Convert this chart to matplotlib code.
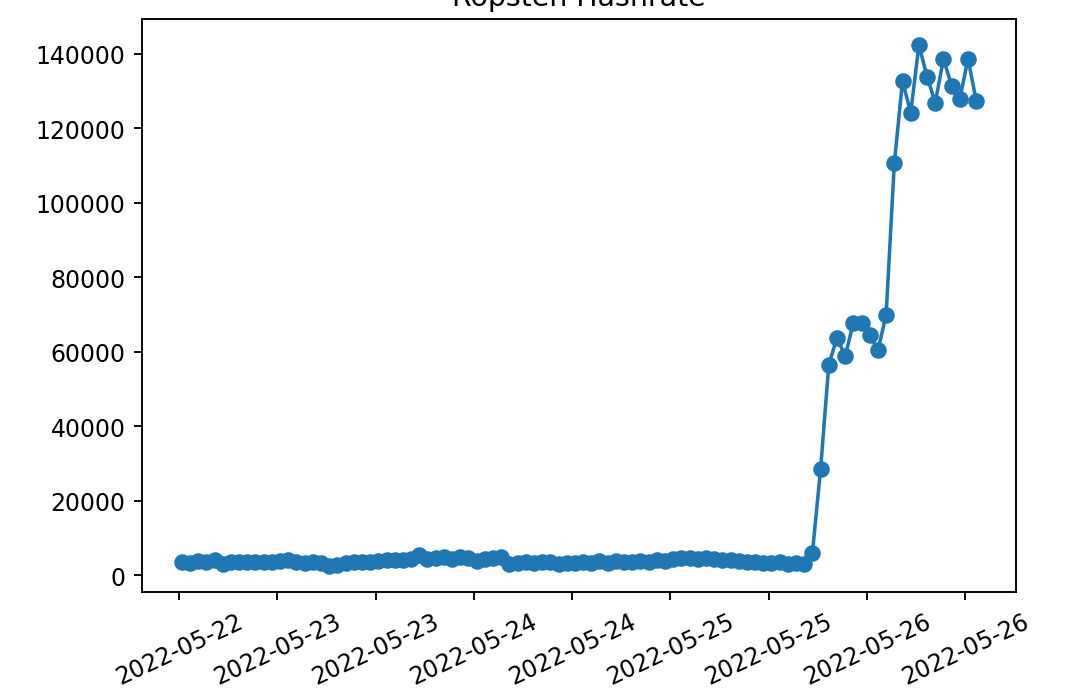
import matplotlib
matplotlib.use("Agg")
import matplotlib.pyplot as plt
import matplotlib.dates as mdates
import pandas as pd

# hourly hashrate samples
start = "2022-05-22 12:20"
low_part = [3600, 3400, 3900, 3500, 4000, 3000, 3500, 3600, 3500, 3700,
            3600, 3500, 3800, 4100, 3700, 3400, 3600, 3300, 2500, 2800,
            3200, 3500, 3700, 3600, 3900, 4000, 4200, 4100, 4500, 5500,
            4400, 4700, 4900, 4300, 4800, 4600, 3800, 4500, 4700, 5000,
            3000, 3300, 3500, 3200, 3700, 3600, 3100, 3300, 3200, 3600,
            3400, 3900, 3300, 3800, 3500, 3700, 3900, 3600, 4000, 3900,
            4300, 4600, 4700, 4500, 4600, 4400, 4200, 4000, 3800, 3600,
            3500, 3400, 3200, 3600, 3100, 3400, 3000]
jump_part = [6000, 28600, 56600, 63800, 58800, 67800, 67800, 64600, 60400,
             70000, 110600, 132800, 124200, 142400, 133900, 126900, 138700,
             131400, 128000, 138700, 127400]

hashrate = low_part + jump_part
times = pd.date_range(start, periods=len(hashrate), freq="h")

fig = plt.figure(figsize=(1080 / 170, 699 / 170), dpi=170)
ax = fig.add_axes([0.1315, 0.1516, 0.8092, 0.8198])
ax.plot(times, hashrate, "o-")
ax.set_title("Ropsten Hashrate")

ax.xaxis.set_major_locator(mdates.HourLocator(byhour=[0, 12]))
ax.xaxis.set_major_formatter(mdates.DateFormatter("%Y-%m-%d"))
plt.setp(ax.get_xticklabels(), rotation=25, ha="center")

fig.savefig("out.png", dpi=170)
